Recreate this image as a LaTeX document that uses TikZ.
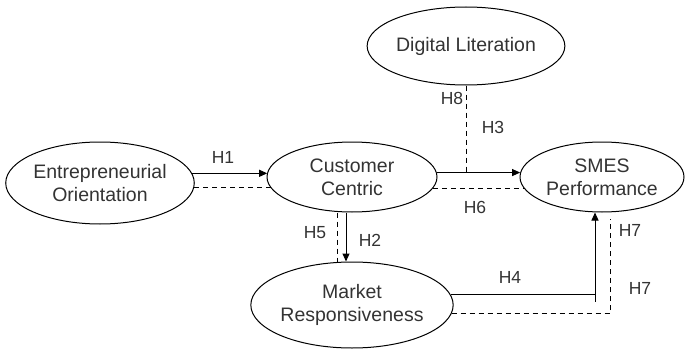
\documentclass[tikz,border=0pt]{standalone}
\usepackage{fontspec}
\setmainfont{Liberation Sans}
\usetikzlibrary{shapes.geometric,arrows.meta}

\begin{document}
\begin{tikzpicture}[x=1pt,y=1pt,line width=1pt]
  \useasboundingbox (0,0) rectangle (685,349);
  \tikzstyle{construct}=[ellipse, draw, inner sep=0pt, align=center, text=black!80, font=\fontsize{19.5}{23}\selectfont]
  \tikzstyle{hyp}=[-{Triangle[length=8pt,width=7pt]}]
  \tikzstyle{med}=[dash pattern=on 5pt off 4pt]
  \tikzstyle{hlabel}=[text=black!80, font=\fontsize{17.5}{20}\selectfont]
  % constructs
  \node[construct, minimum width=184pt, minimum height=82pt] (EO) at (100,166) {Entrepreneurial\\Orientation};
  \node[construct, minimum width=170pt, minimum height=70pt] (CC) at (352,172) {Customer\\Centric};
  \node[construct, minimum width=168pt, minimum height=78pt] (DL) at (466,303) {Digital Literation};
  \node[construct, minimum width=164pt, minimum height=70pt] (SM) at (602,172) {SMES\\Performance};
  \node[construct, minimum width=170pt, minimum height=86pt] (MR) at (352,44) {Market\\Responsiveness};
  % direct paths
  \draw[hyp] (EO.6) -- (EO.6 -| CC.177);
  \draw[hyp] (CC.3) -- (CC.3 -| SM.177);
  \draw[hyp] ([xshift=-6pt]CC.south) -- ([xshift=-6pt]MR.north);
  \coordinate (k4) at ([xshift=-7pt]SM.south);
  \draw (MR.6) -- (MR.6 -| k4);
  \draw[hyp] ([yshift=-7pt]MR.6 -| k4) -- (k4);
  % mediating and moderating paths
  \draw[med] (EO.-3) -- (EO.-3 -| CC.188);
  \draw[med] (CC.-8) -- (CC.-8 -| SM.188);
  \draw[med] (DL.south) -- (DL.south |- CC.3);
  \draw[med] ([xshift=-15pt]CC.south) -- ([xshift=-15pt]MR.north);
  \draw[med] (MR.-5) -| ([xshift=8pt,yshift=-6pt]SM.south);
  % hypothesis labels
  \foreach \t/\x/\y [count=\i] in {H1/223/192, H8/452/251, H3/493/222, H6/475/142,
      H5/315/116, H2/370/109, H4/510/72, H7/630/119, H7/640/61}{
    \node[hlabel] (lab\i) at (\x,\y) {\t};
  }
\end{tikzpicture}
\end{document}
